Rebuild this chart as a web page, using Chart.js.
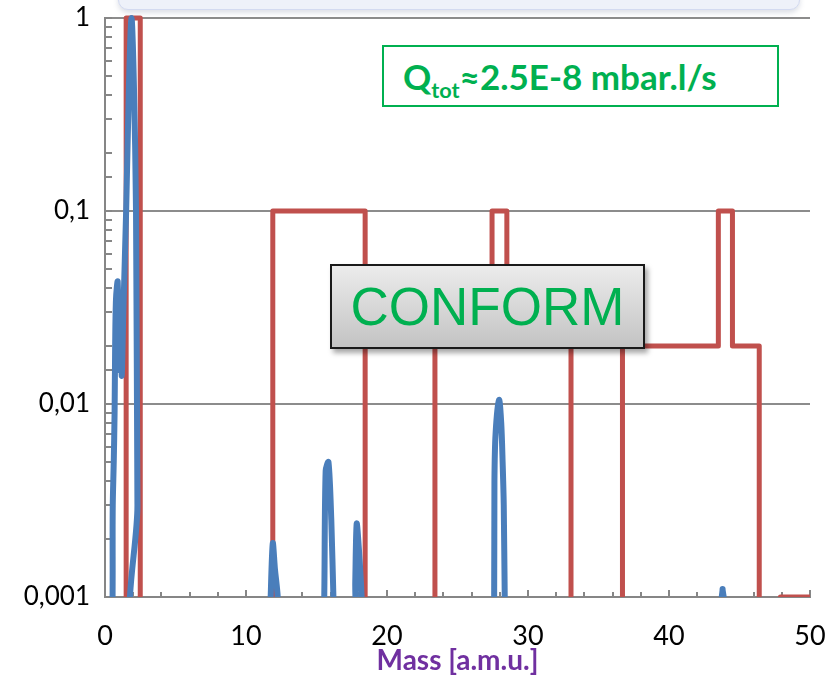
<!DOCTYPE html>
<html>
<head>
<meta charset="utf-8">
<title>Mass spectrum</title>
<script src="https://cdn.jsdelivr.net/npm/chart.js@4.4.1/dist/chart.umd.min.js"></script>
<style>
  body { margin: 0; background: #fff; }
  #wrap { position: relative; width: 838px; height: 676px; overflow: hidden; }
  #topbox {
    position: absolute; left: 118px; top: -22px; width: 680px; height: 30px;
    background: #eef1f9; border: 1px solid #d3daf0; border-radius: 10px;
    box-shadow: 0 3px 5px rgba(120, 130, 160, 0.25);
  }
  #qbox {
    position: absolute; left: 382px; top: 45px; width: 397px; height: 62px;
    box-sizing: border-box; border: 2px solid #00b050; background: #fff;
    color: #00b050; font: bold 35px Lato, sans-serif; line-height: 58px;
    padding-left: 19px; white-space: nowrap;
  }
  #qbox sub { font-size: 0.62em; vertical-align: -0.35em; line-height: 0; }
  #conform {
    position: absolute; left: 330px; top: 264px; width: 315px; height: 85px;
    box-sizing: border-box; border: 2px solid #1a1a1a;
    background: linear-gradient(#ececec, #c3c3c3);
    box-shadow: 3px 4px 5px rgba(0, 0, 0, 0.35);
    color: #00b050; font: 53px "Liberation Sans", Arial, sans-serif;
    line-height: 81px; text-align: center;
  }
</style>
</head>
<body>
<div id="wrap">
  <canvas id="spectrum" width="838" height="676"></canvas>
  <div id="topbox"></div>
  <div id="qbox">Q<sub>tot</sub>≈2.5E-8 mbar.l/s</div>
  <div id="conform">CONFORM</div>
</div>
<script>
// limit mask (red), step levels starting at each mass
var maskMass  = [0, 1.5, 2.5, 11.9, 18.45, 23.4, 27.45, 28.5, 33.05, 36.7, 43.5, 44.5, 46.4, 47.9, 50];
var maskLevel = [0.0001, 1, 0.0001, 0.1, 0.0001, 0.02, 0.1, 0.02, 0.0001, 0.02, 0.1, 0.02, 0.0001, 0.001, 0.001];

// measured spectrum (blue)
var specMass = [0, 0.45, 0.55, 0.62, 0.68, 0.72, 0.78, 0.9, 1.0, 1.08, 1.18, 1.3, 1.5, 1.7, 1.88, 2.05, 2.2, 2.3, 2.42,
                11.65, 11.75, 11.9, 12.05, 12.25, 12.35,
                15.45, 15.55, 15.65, 15.85, 16.05, 16.2, 16.35,
                17.65, 17.75, 17.85, 18.0, 18.2, 18.3,
                27.5, 27.6, 27.62, 27.7, 27.95, 28.1, 28.2, 28.28, 28.35, 28.42,
                43.6, 43.8, 43.95, 50];
var specValue = [0.0005, 0.0005, 0.003, 0.005, 0.009, 0.02, 0.035, 0.043, 0.015, 0.033, 0.014, 0.03, 0.1, 0.45, 1.0, 0.45, 0.1, 0.003, 0.0005,
                 0.0005, 0.001, 0.0019, 0.0014, 0.001, 0.0005,
                 0.0005, 0.001, 0.0045, 0.005, 0.0025, 0.001, 0.0005,
                 0.0005, 0.0012, 0.0024, 0.0018, 0.001, 0.0005,
                 0.0005, 0.001, 0.004, 0.007, 0.0105, 0.008, 0.005, 0.003, 0.001, 0.0005,
                 0.0005, 0.0011, 0.0005, 0.0005];

var xLabels = [0, 10, 20, 30, 40, 50];
var yTickValues = [0.001, 0.01, 0.1, 1];
var yTickLabels = ['0,001', '0,01', '0,1', '1'];

function pairs(xs, ys) {
    return xs.map(function(x, i) { return { x: x, y: ys[i] }; });
}

function decadeIndex(v) {
    for (var i = 0; i < yTickValues.length; i++) {
        if (Math.abs(v - yTickValues[i]) < yTickValues[i] * 1e-6) return i;
    }
    return -1;
}

var innerTicks = {
    id: 'innerTicks',
    beforeDatasetsDraw: function(chart) {
        var ctx = chart.ctx, area = chart.chartArea;
        var xs = chart.scales.x, ys = chart.scales.y;
        ctx.save();
        ctx.strokeStyle = '#868686';
        ctx.lineWidth = 2;
        ctx.beginPath();
        xs.ticks.forEach(function(t) {
            if (t.value === 0) return;
            var px = Math.round(xs.getPixelForValue(t.value));
            var len = t.value % 10 === 0 ? 7 : 5;
            ctx.moveTo(px, area.bottom);
            ctx.lineTo(px, area.bottom - len);
        });
        ys.ticks.forEach(function(t) {
            var py = Math.round(ys.getPixelForValue(t.value));
            ctx.moveTo(area.left, py);
            ctx.lineTo(area.left + 7, py);
        });
        ctx.stroke();
        ctx.restore();
    }
};

var cnv = document.getElementById('spectrum').getContext('2d');
var chart = new Chart(cnv, {
    type: 'line',
    data: {
        datasets: [{
            label: 'Spectrum',
            data: pairs(specMass, specValue),
            borderColor: '#4a7ebb',
            borderWidth: 6,
            pointRadius: 0,
            tension: 0.3,
            borderCapStyle: 'round',
            borderJoinStyle: 'round',
            clip: { left: 0, top: 3, right: 0, bottom: 0 }
        }, {
            label: 'Limit',
            data: pairs(maskMass, maskLevel),
            borderColor: '#c0504d',
            borderWidth: 5,
            pointRadius: 0,
            stepped: true,
            borderJoinStyle: 'round',
            clip: { left: 0, top: 3, right: 0, bottom: 0 }
        }]
    },
    options: {
        responsive: false,
        animation: false,
        layout: { padding: { top: 18, right: 28, left: 0, bottom: 0 } },
        plugins: { legend: { display: false }, tooltip: { enabled: false } },
        scales: {
            x: {
                type: 'linear',
                min: 0,
                max: 50,
                afterFit: function(s) { s.height = 79; s.paddingLeft = 0; s.paddingRight = 0; },
                grid: { display: false },
                border: { display: true, color: '#868686', width: 2 },
                ticks: {
                    stepSize: 2,
                    autoSkip: false,
                    maxRotation: 0,
                    padding: 15,
                    color: '#000',
                    font: { family: 'Lato', size: 27 },
                    callback: function(v) { return xLabels.indexOf(v) >= 0 ? String(v) : ''; }
                },
                title: {
                    display: true,
                    text: 'Mass [a.m.u.]',
                    color: '#7030a0',
                    font: { family: 'Lato', size: 28, weight: 'bold', lineHeight: 1 },
                    padding: { top: 0, bottom: 1 }
                }
            },
            y: {
                type: 'logarithmic',
                min: 0.001,
                max: 1,
                afterFit: function(s) { s.width = 105; s.paddingTop = 0; s.paddingBottom = 0; },
                grid: {
                    drawTicks: false,
                    lineWidth: 2,
                    color: function(c) {
                        var i = c.tick ? decadeIndex(c.tick.value) : -1;
                        return i > 0 ? '#8c8c8c' : 'rgba(0,0,0,0)';
                    }
                },
                border: { display: true, color: '#868686', width: 2 },
                ticks: {
                    autoSkip: false,
                    padding: 15,
                    color: '#000',
                    font: { family: 'Lato', size: 26 },
                    callback: function(v) {
                        var i = decadeIndex(v);
                        return i >= 0 ? yTickLabels[i] : '';
                    }
                }
            }
        }
    },
    plugins: [innerTicks]
});
</script>
</body>
</html>
